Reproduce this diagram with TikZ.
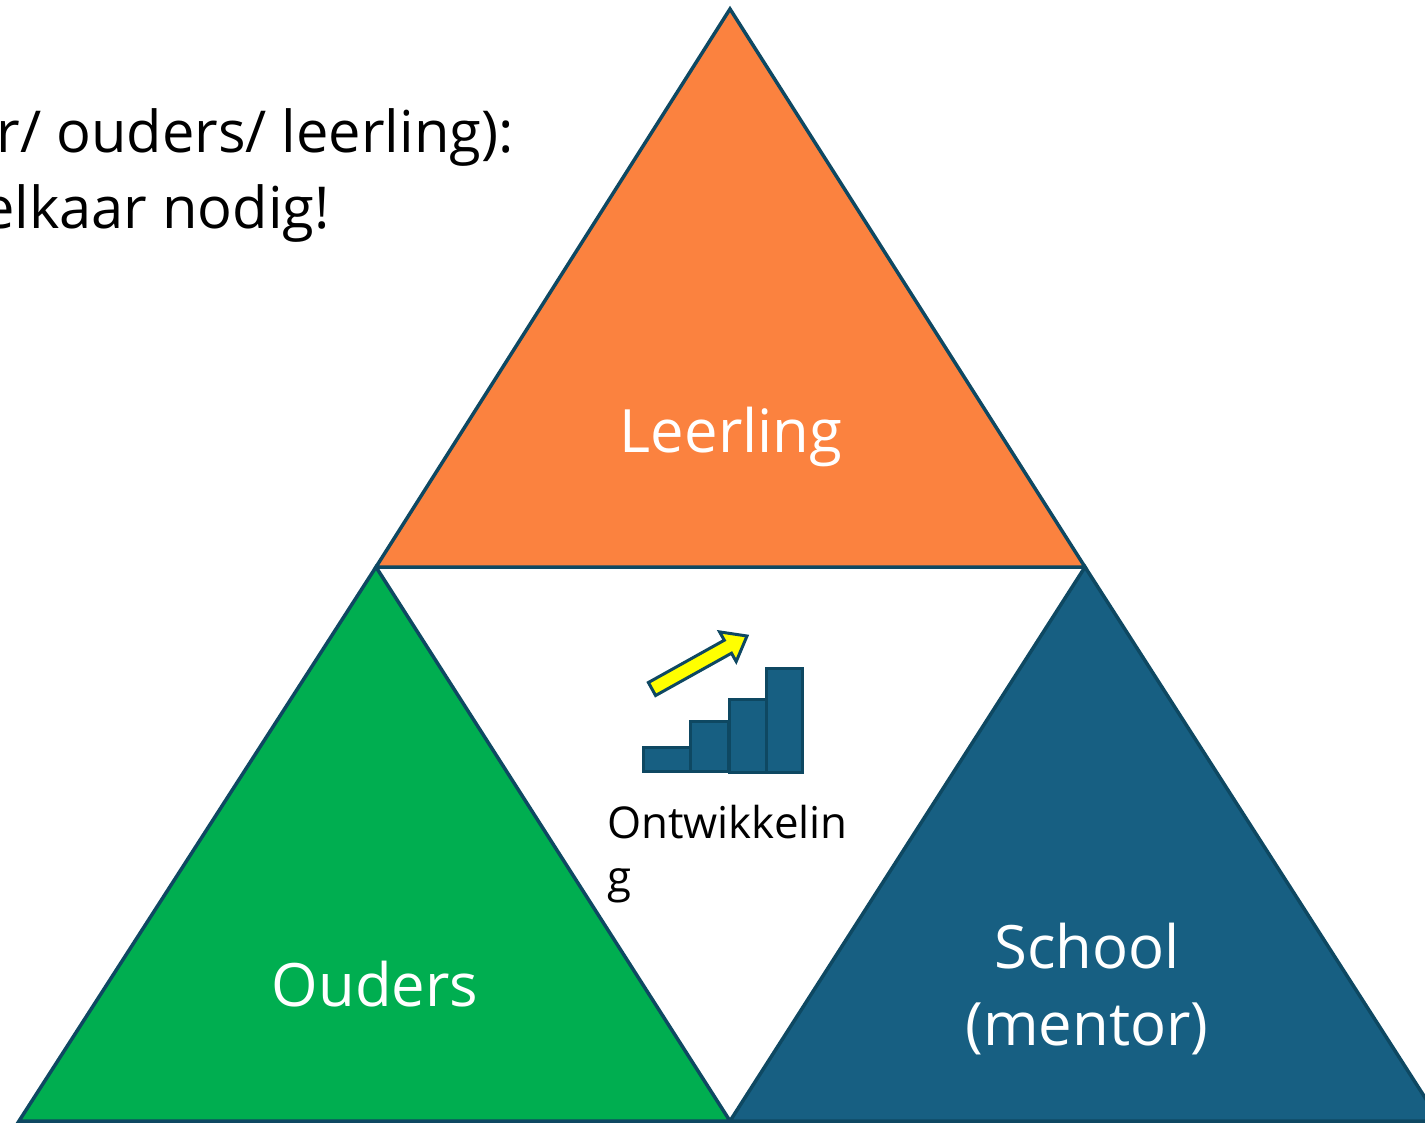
\documentclass[tikz,border=0pt]{standalone}
\usepackage{fontspec}
\setmainfont{Open Sans}
\definecolor{orangeF}{HTML}{FB823F}
\definecolor{greenF}{HTML}{00AE50}
\definecolor{blueF}{HTML}{175F82}
\definecolor{edgeC}{HTML}{0E4862}
\definecolor{arrowY}{HTML}{FFFF00}
\tikzset{
  tri/.style={draw=edgeC, line width=3.5bp, line join=miter},
  whitelabel/.style={text=white, font=\fontsize{60}{78}\selectfont, inner sep=0pt},
  blacklabel/.style={text=black, font=\fontsize{58}{76}\selectfont, inner sep=0pt},
  iconlabel/.style={text=black, font=\fontsize{44}{54}\selectfont, inner sep=0pt, align=left},
  bar/.style={fill=blueF, draw=edgeC, line width=3bp},
  yarrow/.style={fill=arrowY, draw=edgeC, line width=3bp, line join=miter}
}
\begin{document}
\begin{tikzpicture}[x=1bp,y=-1bp]
\useasboundingbox (0,0) rectangle (1425,1124);
\begin{scope}
\clip (0,0) rectangle (1425,1124);
% vertices
\coordinate (top) at (730,9);
\coordinate (ml) at (376,567);
\coordinate (mr) at (1085,567);
\coordinate (bl) at (19,1121);
\coordinate (bm) at (730,1121);
\coordinate (br) at (1440,1121);
% triangles
\draw[tri, fill=orangeF] (top) -- (ml) -- (mr) -- cycle;
\draw[tri, fill=greenF] (ml) -- (bl) -- (bm) -- cycle;
\draw[tri, fill=blueF] (mr) -- (bm) -- (br) -- cycle;
% labels
\node[whitelabel, anchor=base] (leerling) at (731,452) {Leerling};
\node[whitelabel, anchor=base] (ouders) at (375,1006) {Ouders};
\node[whitelabel, anchor=base] (school) at (1087,968) {School};
\node[whitelabel, anchor=base] (mentor) at (1087,1045) {(mentor)};
% title text (cut off at the left edge, as in the reference)
\node[blacklabel, anchor=base east] (title1) at (514,152) {r/ ouders/ leerling):};
\node[blacklabel, anchor=base east] (title2) at (330,228) {elkaar nodig!};
% icon bars
\draw[bar] (643,747) rectangle (690,771) coordinate (b1);
\draw[bar] (690,721) rectangle (728,771) coordinate (b2);
\draw[bar] (729,699) rectangle (766,772) coordinate (b3);
\draw[bar] (766,668) rectangle (802,772) coordinate (b4);
% arrow
\draw[yarrow] (648.4,682.5) -- (724.3,640.2) -- (719.6,631.9) -- (747,636)
   -- (736.2,661.5) -- (731.5,653.2) -- (655.6,695.5) -- cycle;
% icon label
\node[iconlabel, anchor=base west] (ontw) at (607,838) {Ontwikkelin};
\node[iconlabel, anchor=base west] (ontwg) at (607,892) {g};
\end{scope}
\end{tikzpicture}
\end{document}
